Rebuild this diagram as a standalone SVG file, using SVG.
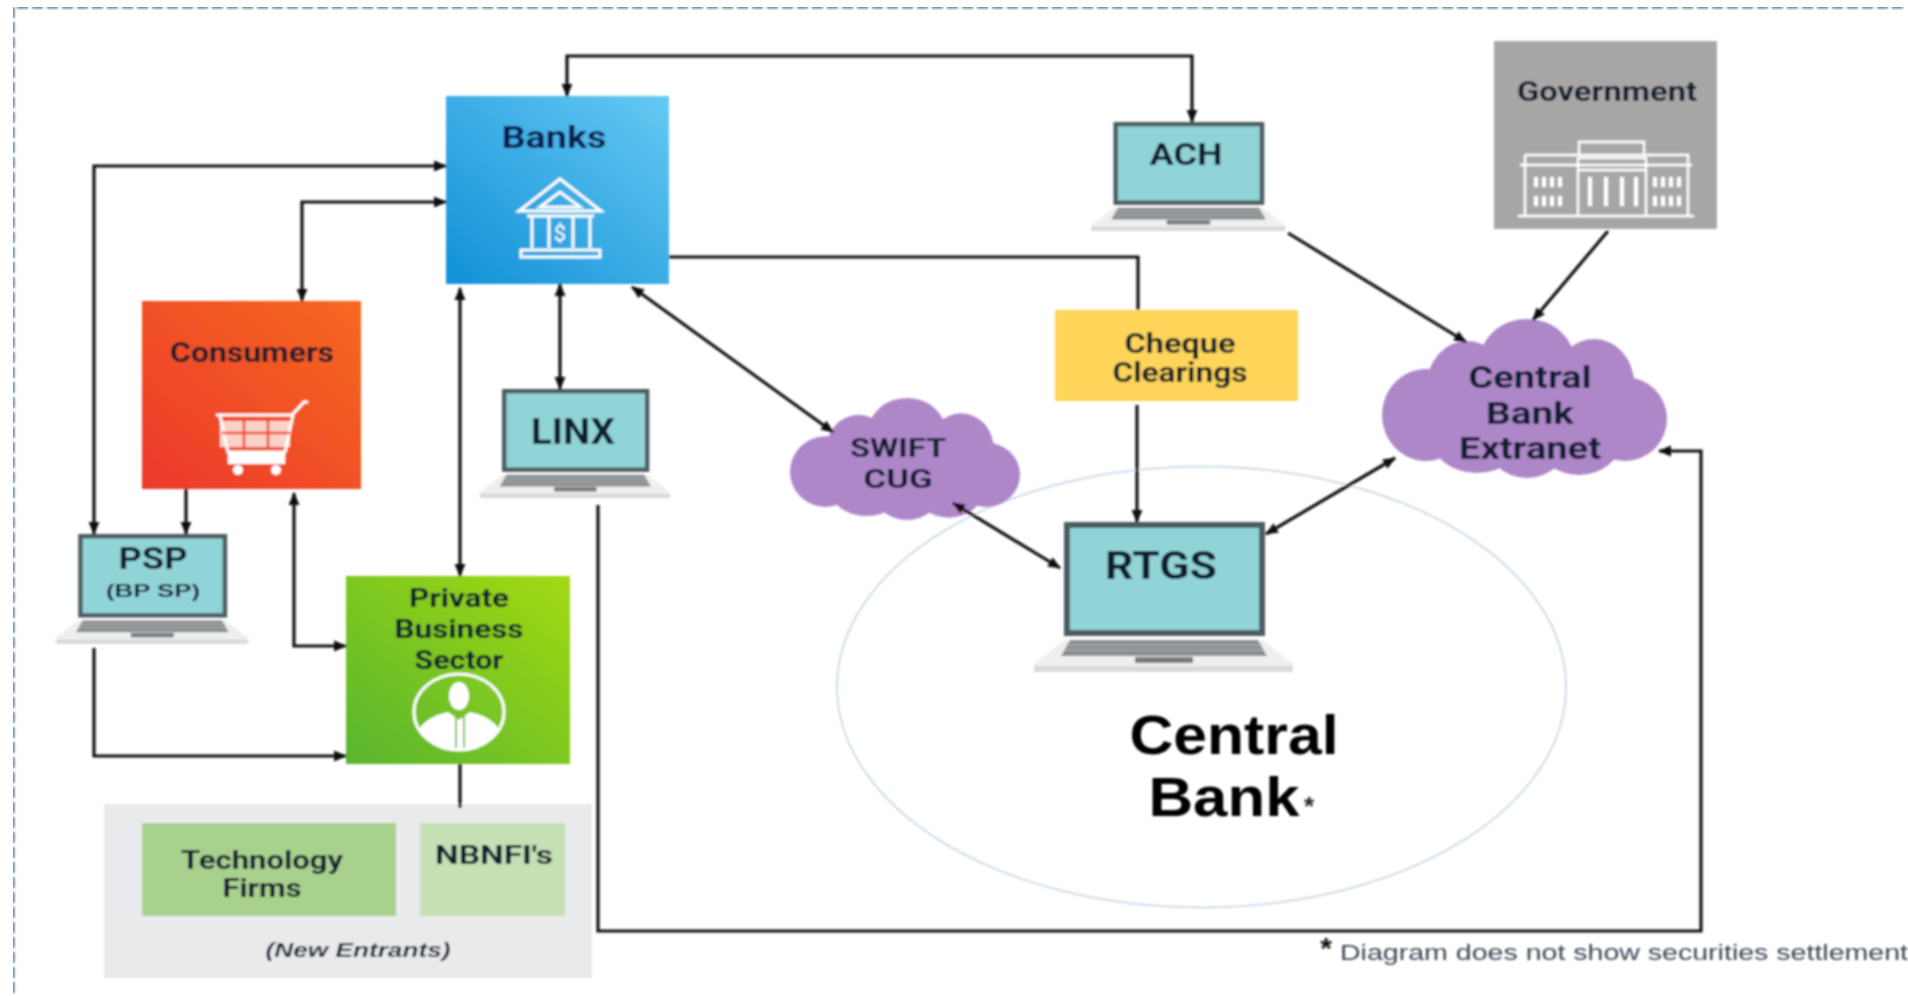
<svg xmlns="http://www.w3.org/2000/svg" xmlns:xlink="http://www.w3.org/1999/xlink" width="1908" height="996" viewBox="0 0 1908 996">
<style>
text{font-family:"Roboto","Liberation Sans",sans-serif;font-weight:700;text-anchor:middle;fill:#0d1a2e}
.cn{fill:none;stroke:#111;stroke-width:3.2}
.ic{fill:none;stroke:#fff;stroke-width:3}
.sm{font-family:"Liberation Sans",sans-serif;font-weight:700}
</style>
<defs>
<linearGradient id="gB" x1="0" y1="1" x2="1" y2="0"><stop offset="0" stop-color="#1190d8"/><stop offset="1" stop-color="#66c9f2"/></linearGradient>
<linearGradient id="gC" x1="0" y1="1" x2="1" y2="0"><stop offset="0" stop-color="#ec392c"/><stop offset="1" stop-color="#f6691f"/></linearGradient>
<linearGradient id="gP" x1="0" y1="1" x2="1" y2="0"><stop offset="0" stop-color="#58b52f"/><stop offset="1" stop-color="#a2da12"/></linearGradient>
<marker id="a" viewBox="0 0 12 12" refX="11" refY="6" markerWidth="13" markerHeight="13" markerUnits="userSpaceOnUse" orient="auto-start-reverse"><path d="M0 1L12 6L0 11z" fill="#111"/></marker>
<filter id="soft" x="0" y="0" width="100%" height="100%"><feGaussianBlur stdDeviation="0.9"/></filter>
<g id="laptop">
<path d="M30 118H229L259 142V150H0V142z" fill="#eeefef"/>
<rect x="0" y="144" width="259" height="6" fill="#d8dada"/>
<path d="M36 118H224L233 134H27z" fill="#8b8e90"/>
<path d="M32 123H228M30 128H230" stroke="#b4b6b8" stroke-width="1.2" fill="none"/>
<rect x="101" y="135" width="58" height="6" fill="#77797b"/>
<rect x="33" y="3" width="195" height="108" fill="#90d4d7" stroke="#4e5b61" stroke-width="6"/>
</g>
<g id="cloud" fill="#ae87c9">
<ellipse cx="145" cy="44" rx="48" ry="44"/>
<ellipse cx="85" cy="66" rx="40" ry="44"/>
<ellipse cx="44" cy="96" rx="44" ry="46"/>
<ellipse cx="212" cy="64" rx="40" ry="44"/>
<ellipse cx="243" cy="100" rx="42" ry="42"/>
<ellipse cx="145" cy="120" rx="42" ry="39"/>
<ellipse cx="95" cy="118" rx="46" ry="36"/>
<ellipse cx="197" cy="121" rx="42" ry="35"/>
<ellipse cx="142" cy="88" rx="115" ry="56"/>
</g>
</defs>
<rect width="1908" height="996" fill="#fff"/>
<g filter="url(#soft)">
<path d="M1903 7H13V996" fill="none" stroke="#4f7590" stroke-width="3" stroke-dasharray="11 4"/>
<ellipse id="central-bank-circle" cx="1201.5" cy="687" rx="364.5" ry="220.5" fill="none" stroke="#cfdeea" stroke-width="2"/>

<g id="new-entrants">
<rect x="104" y="804" width="488" height="174" fill="#e9eaec"/>
<text x="358" y="957" font-size="21" font-style="italic" class="sm" textLength="185" lengthAdjust="spacingAndGlyphs">(New Entrants)</text>
</g>
<g id="technology-firms">
<rect x="142" y="823" width="254" height="93" fill="#a9d18e"/>
<text x="262" y="869" font-size="26" textLength="162" lengthAdjust="spacingAndGlyphs">Technology</text>
<text x="262" y="897" font-size="26" textLength="79" lengthAdjust="spacingAndGlyphs">Firms</text>
</g>
<g id="nbnfis">
<rect x="420" y="823" width="145" height="93" fill="#c5e0b4"/>
<text x="494" y="864" font-size="26" textLength="118" lengthAdjust="spacingAndGlyphs">NBNFI's</text>
</g>

<g id="banks">
<rect x="446" y="96" width="223" height="188" fill="url(#gB)"/>
<text x="554" y="148" font-size="32" style="fill:#0b1f4d" textLength="105" lengthAdjust="spacingAndGlyphs">Banks</text>
<g class="ic">
<path d="M560 179L519 211H601z"/><path d="M560 192L540 207H580z"/>
<path d="M527 216H594M532 216V248M549 216V248M573 216V248M590 216V248"/>
<rect x="521" y="250" width="79" height="7"/>
</g>
<text x="560" y="241" font-size="22" style="fill:#fff;font-weight:400">$</text>
</g>

<g id="consumers">
<rect x="142" y="301" width="219" height="188" fill="url(#gC)"/>
<text x="252" y="362" font-size="28" textLength="164" lengthAdjust="spacingAndGlyphs">Consumers</text>
<g class="ic">
<path d="M216 415H292L304 402H308"/>
<path d="M220 415L228 452H285L293 415"/>
</g>
<g fill="#fff">
<rect x="220" y="421" width="70" height="26" opacity=".75"/>
<rect x="228" y="452" width="57" height="12"/>
<circle cx="238" cy="470" r="5"/><circle cx="276" cy="470" r="5"/>
</g>
<path d="M222 433H290M244 419V449M268 419V449" stroke="#ed4a28" stroke-width="2.5" fill="none"/>
</g>

<g id="private-business-sector">
<rect x="346" y="576" width="224" height="188" fill="url(#gP)"/>
<text x="459" y="607" font-size="26" textLength="100" lengthAdjust="spacingAndGlyphs">Private</text>
<text x="459" y="638" font-size="26" textLength="129" lengthAdjust="spacingAndGlyphs">Business</text>
<text x="459" y="669" font-size="26" textLength="89" lengthAdjust="spacingAndGlyphs">Sector</text>
<ellipse class="ic" cx="459" cy="712" rx="45" ry="38"/>
<path d="M418 730Q428 716 448 712L459 720L470 712Q490 716 500 730Q486 749 459 750Q432 749 418 730z" fill="#fff"/>
<ellipse cx="459" cy="696" rx="10" ry="14" fill="#fff"/>
<path d="M456 716V748M464 716V748" stroke="#6cbf28" stroke-width="2" fill="none"/>
</g>

<g id="government">
<rect x="1494" y="41" width="223" height="188" fill="#a9a7a6"/>
<text x="1607" y="101" font-size="28" textLength="180" lengthAdjust="spacingAndGlyphs">Government</text>
<g class="ic" style="stroke-width:2.4">
<path d="M1518 216H1694"/>
<path d="M1525 216V165H1688V216M1520 165H1692M1525 155H1688V165M1525 155V165"/>
<path d="M1579 155V142H1644V155M1578 216V158H1646V216M1578 170H1646"/>
</g>
<g style="stroke:#fff;stroke-width:4;fill:none">
<path d="M1536 177V187M1544 177V187M1552 177V187M1560 177V187M1536 196V206M1544 196V206M1552 196V206M1560 196V206M1590 177V206M1606 177V206M1622 177V206M1636 177V206M1655 177V187M1663 177V187M1671 177V187M1679 177V187M1655 196V206M1663 196V206M1671 196V206M1679 196V206"/>
</g>
</g>

<g id="cheque-clearings">
<rect x="1055" y="310" width="243" height="91" fill="#fed558"/>
<text x="1180" y="353" font-size="27" textLength="111" lengthAdjust="spacingAndGlyphs">Cheque</text>
<text x="1180" y="382" font-size="27" textLength="135" lengthAdjust="spacingAndGlyphs">Clearings</text>
</g>

<g id="ach">
<use xlink:href="#laptop" href="#laptop" transform="translate(1091 122) scale(.75 .727)"/>
<text x="1186" y="165" font-size="32" textLength="73" lengthAdjust="spacingAndGlyphs">ACH</text>
</g>
<g id="linx">
<use xlink:href="#laptop" href="#laptop" transform="translate(480 389) scale(.733 .727)"/>
<text x="573" y="444" font-size="36" textLength="84" lengthAdjust="spacingAndGlyphs">LINX</text>
</g>
<g id="psp">
<use xlink:href="#laptop" href="#laptop" transform="translate(56 534) scale(.741 .733)"/>
<text x="153" y="569" font-size="32" textLength="69" lengthAdjust="spacingAndGlyphs">PSP</text>
<text x="153" y="597" font-size="19" class="sm" textLength="94" lengthAdjust="spacingAndGlyphs">(BP SP)</text>
</g>
<g id="rtgs">
<use xlink:href="#laptop" href="#laptop" transform="translate(1034 522)"/>
<text x="1161" y="579" font-size="38" textLength="112" lengthAdjust="spacingAndGlyphs">RTGS</text>
</g>

<g id="swift-cug">
<use xlink:href="#cloud" href="#cloud" transform="translate(790 398) scale(.807 .767)"/>
<text x="898" y="457" font-size="26" textLength="96" lengthAdjust="spacingAndGlyphs">SWIFT</text>
<text x="898" y="488" font-size="26" textLength="69" lengthAdjust="spacingAndGlyphs">CUG</text>
</g>
<g id="central-bank-extranet">
<use xlink:href="#cloud" href="#cloud" transform="translate(1382 319)"/>
<text x="1530" y="388" font-size="32" textLength="123" lengthAdjust="spacingAndGlyphs">Central</text>
<text x="1530" y="424" font-size="32" textLength="88" lengthAdjust="spacingAndGlyphs">Bank</text>
<text x="1530" y="459" font-size="32" textLength="142" lengthAdjust="spacingAndGlyphs">Extranet</text>
</g>

<g id="connectors">
<path class="cn" d="M567 96V56H1192V122" marker-start="url(#a)" marker-end="url(#a)"/>
<path class="cn" d="M94 534V166H446" marker-start="url(#a)" marker-end="url(#a)"/>
<path class="cn" d="M302 301V202H446" marker-start="url(#a)" marker-end="url(#a)"/>
<path class="cn" d="M186 489V534" marker-end="url(#a)"/>
<path class="cn" d="M294 493V646H346" marker-start="url(#a)" marker-end="url(#a)"/>
<path class="cn" d="M460 288V576" marker-start="url(#a)" marker-end="url(#a)"/>
<path class="cn" d="M560 284V389" marker-start="url(#a)" marker-end="url(#a)"/>
<path class="cn" d="M94 648V756H346" marker-end="url(#a)"/>
<path class="cn" d="M460 764V808"/>
<path class="cn" d="M669 257H1138V310"/>
<path class="cn" d="M1137 405V522" marker-end="url(#a)"/>
<path class="cn" d="M632 287L833 432" marker-start="url(#a)" marker-end="url(#a)"/>
<path class="cn" d="M953 503L1060 568" marker-start="url(#a)" marker-end="url(#a)"/>
<path class="cn" d="M1266 534L1395 458" marker-start="url(#a)" marker-end="url(#a)"/>
<path class="cn" d="M1288 233L1466 342" marker-end="url(#a)"/>
<path class="cn" d="M1608 231L1533 320" marker-end="url(#a)"/>
<path class="cn" d="M598 505V931H1701V451H1659" marker-end="url(#a)"/>
</g>

<g id="central-bank-label">
<text x="1234" y="754" font-size="56" class="sm" style="fill:#000" textLength="209" lengthAdjust="spacingAndGlyphs">Central</text>
<text x="1224" y="816" font-size="56" class="sm" style="fill:#000" textLength="151" lengthAdjust="spacingAndGlyphs">Bank</text>
<text x="1309" y="815" font-size="26" class="sm" style="fill:#222">*</text>
</g>
<g id="footnote">
<text x="1326" y="958" font-size="30" class="sm" style="fill:#111">*</text>
<text x="1340" y="960" font-size="22" textLength="568" lengthAdjust="spacingAndGlyphs" style="text-anchor:start;fill:#3b4754;font-family:'Liberation Sans',sans-serif;font-weight:400">Diagram does not show securities settlement</text>
</g>
</g>
</svg>
